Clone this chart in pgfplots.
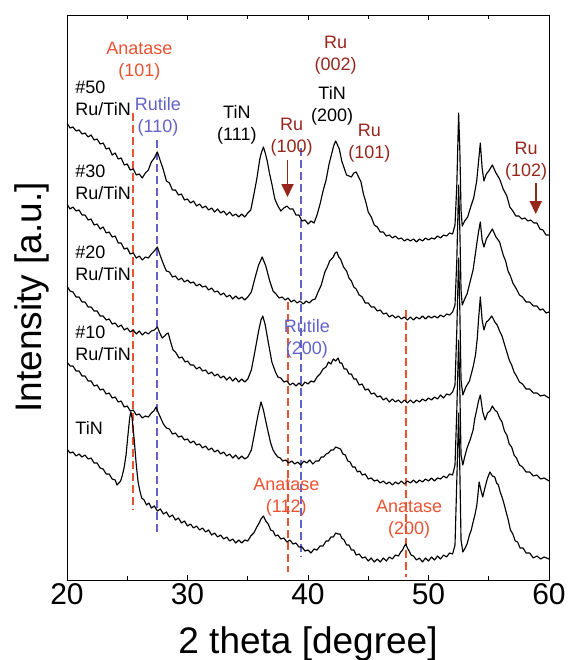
\documentclass[border=0pt]{standalone}
\usepackage{fontspec}
\setmainfont{Liberation Sans}
\usepackage{pgfplots}
\pgfplotsset{compat=1.18}
\usetikzlibrary{arrows.meta}
\definecolor{anared}{RGB}{234,82,50}
\definecolor{rutblue}{RGB}{98,98,200}
\definecolor{rured}{RGB}{150,38,28}
\begin{document}
\begin{tikzpicture}
\begin{axis}[
 scale only axis, width=482pt, height=565pt,
 xmin=20, xmax=60, ymin=15, ymax=580, y dir=reverse,
 xtick={20,30,40,50,60}, minor x tick num=1, ytick=\empty,
 tick align=inside, xtick pos=both, major tick length=5pt, minor tick length=4pt,
 tick style={black, line width=0.8pt},
 axis line style={line width=0.9pt},
 /pgf/number format/assume math mode=true,
 ticklabel style={font=\fontsize{30}{30}\selectfont},
 xlabel={2 theta [degree]}, ylabel={Intensity [a.u.]},
 label style={font=\fontsize{37}{37}\selectfont},
 xlabel style={at={(axis description cs:0.5,-0.1292)}, anchor=base},
 ylabel style={at={(axis description cs:-0.0519,0.5)}, anchor=base},
 every node/.style={inner sep=0pt},
]
% reference lines
\addplot[anared, line width=1.6pt, dash pattern=on 8pt off 4pt] coordinates {(25.48,113) (25.48,510)};
\addplot[rutblue, line width=1.6pt, dash pattern=on 8pt off 4pt] coordinates {(27.47,140) (27.47,533)};
\addplot[anared, line width=1.6pt, dash pattern=on 8pt off 4pt] coordinates {(38.34,302) (38.34,572)};
\addplot[rutblue, line width=1.6pt, dash pattern=on 8pt off 4pt] coordinates {(39.42,148) (39.42,557)};
\addplot[anared, line width=1.6pt, dash pattern=on 8pt off 4pt] coordinates {(48.13,310) (48.13,577)};

% #50
\addplot[black, line width=1.15pt, line join=round] coordinates {
(20,123) (20.25,128) (20.5,127) (20.75,131) (21,130) (21.25,134) (21.5,133) (21.75,137) (22,135) (22.25,140) (22.5,139) (22.75,144) (23,143) (23.25,149) (23.5,148) (23.75,155) (24,153) (24.25,159) (24.5,158) (24.75,165) (25,164) (25.25,170) (25.5,169) (25.75,175) (26,174) (26.25,178) (26.5,173) (26.75,170) (27,162) (27.25,158) (27.5,152) (27.75,161) (28,170) (28.25,181) (28.5,183) (28.75,190) (29,190) (29.25,195) (29.5,194) (29.75,200) (30,199) (30.25,203) (30.5,201) (30.75,206) (31,204) (31.25,208) (31.5,206) (31.75,210) (32,208) (32.25,212) (32.5,209) (32.75,213) (33,211) (33.25,215) (33.5,212) (33.75,216) (34,214) (34.25,217) (34.5,214) (34.75,217) (35,213) (35.25,210) (35.5,195) (35.75,179) (36,159) (36.15,152) (36.3,147) (36.45,153) (36.6,160) (36.8,173) (37,184) (37.25,199) (37.5,206) (37.75,211) (38,208) (38.25,206) (38.5,209) (38.75,209) (39,215) (39.25,215) (39.5,221) (39.75,220) (40,224) (40.25,221) (40.5,223) (40.75,215) (41,204) (41.25,191) (41.5,180) (41.75,164) (42,152) (42.15,145) (42.3,141) (42.45,145) (42.6,149) (42.8,161) (43,168) (43.2,175) (43.4,176) (43.6,177) (43.8,173) (44,172) (44.2,177) (44.4,182) (44.6,194) (44.8,202) (45,212) (45.25,217) (45.5,225) (45.75,227) (46,232) (46.25,232) (46.5,236) (46.75,235) (47,238) (47.25,236) (47.5,239) (47.75,238) (48,241) (48.25,239) (48.5,241) (48.75,239) (49,242) (49.25,239) (49.5,241) (49.75,238) (50,240) (50.25,238) (50.5,239) (50.75,236) (51,238) (51.25,235) (51.5,236) (51.75,233) (52,234) (52.2,225) (52.35,185) (52.5,113) (52.6,150) (52.7,210) (52.8,226) (53,221) (53.25,217) (53.5,207) (53.75,198) (54,181) (54.15,162) (54.3,143) (54.45,168) (54.6,181) (54.8,174) (55,171) (55.3,165) (55.6,173) (55.9,179) (56.2,189) (56.5,196) (56.75,207) (57,211) (57.25,216) (57.5,216) (57.75,219) (58,218) (58.25,221) (58.5,220) (58.75,223) (59,223) (59.25,229) (59.5,230) (59.75,235) (60,235)
};
% #30
\addplot[black, line width=1.15pt, line join=round] coordinates {
(20,204) (20.25,209) (20.5,207) (20.75,211) (21,210) (21.25,215) (21.5,215) (21.75,220) (22,219) (22.25,225) (22.5,224) (22.75,229) (23,227) (23.25,233) (23.5,232) (23.75,237) (24,236) (24.25,243) (24.5,243) (24.75,249) (25,248) (25.25,254) (25.5,253) (25.75,258) (26,256) (26.25,260) (26.5,257) (26.75,258) (27,254) (27.25,251) (27.5,247) (27.75,256) (28,264) (28.25,271) (28.5,272) (28.75,277) (29,276) (29.25,280) (29.5,278) (29.75,282) (30,280) (30.25,283) (30.5,282) (30.75,286) (31,284) (31.25,287) (31.5,286) (31.75,290) (32,288) (32.25,292) (32.5,291) (32.75,295) (33,293) (33.25,297) (33.5,295) (33.75,299) (34,296) (34.25,299) (34.5,297) (34.75,300) (35,297) (35.3,292) (35.6,278) (35.9,265) (36.2,257) (36.5,266) (36.8,280) (37.1,291) (37.35,294) (37.6,298) (37.85,297) (38.1,300) (38.35,298) (38.6,302) (38.85,300) (39.1,303) (39.35,301) (39.6,304) (39.85,301) (40.1,303) (40.35,300) (40.6,299) (40.8,293) (41.1,285) (41.4,272) (41.6,267) (41.8,261) (42.1,257) (42.25,253) (42.4,252) (42.55,257) (42.7,259) (42.95,267) (43.2,271) (43.4,278) (43.6,281) (43.8,287) (44,289) (44.25,295) (44.5,297) (44.75,303) (45,303) (45.25,307) (45.5,307) (45.75,311) (46,310) (46.25,314) (46.5,313) (46.75,317) (47,315) (47.25,318) (47.5,316) (47.75,319) (48,317) (48.25,320) (48.5,317) (48.75,320) (49,317) (49.25,319) (49.5,316) (49.75,319) (50,316) (50.25,318) (50.5,316) (50.75,318) (51,315) (51.25,317) (51.5,314) (51.75,315) (52,312) (52.2,305) (52.35,260) (52.5,185) (52.6,230) (52.7,290) (52.8,305) (53,299) (53.2,294) (53.45,282) (53.7,270) (53.9,253) (54.05,240) (54.15,232) (54.3,222) (54.45,240) (54.6,247) (54.8,239) (55,235) (55.3,229) (55.6,237) (55.9,242) (56.2,255) (56.4,261) (56.6,271) (56.8,276) (57,283) (57.3,289) (57.55,295) (57.8,297) (58.1,302) (58.4,302) (58.7,306) (59,306) (59.25,310) (59.5,309) (59.75,313) (60,312)
};
% #20
\addplot[black, line width=1.15pt, line join=round] coordinates {
(20,286) (20.25,291) (20.5,292) (20.75,297) (21,297) (21.25,302) (21.5,302) (21.75,307) (22,307) (22.25,311) (22.5,311) (22.75,316) (23,316) (23.25,320) (23.5,319) (23.75,324) (24,323) (24.25,327) (24.5,325) (24.75,330) (25,328) (25.25,332) (25.5,330) (25.75,334) (26,331) (26.25,335) (26.5,332) (26.75,334) (27,331) (27.25,330) (27.5,327) (27.7,333) (27.9,338) (28.1,336) (28.25,334) (28.4,333) (28.6,342) (28.8,350) (29,352) (29.3,358) (29.55,357) (29.8,362) (30,361) (30.25,365) (30.5,365) (30.75,369) (31,367) (31.25,371) (31.5,370) (31.75,374) (32,372) (32.25,376) (32.5,374) (32.75,378) (33,376) (33.25,380) (33.5,377) (33.75,381) (34,378) (34.25,382) (34.5,379) (34.75,382) (35,379) (35.3,370) (35.6,351) (35.9,331) (36.1,320) (36.25,316) (36.45,325) (36.7,342) (37,362) (37.3,372) (37.5,377) (37.75,378) (38,382) (38.25,381) (38.5,385) (38.75,383) (39,386) (39.25,383) (39.5,386) (39.75,382) (40,384) (40.25,381) (40.5,382) (40.75,377) (41,374) (41.25,369) (41.5,367) (41.7,362) (41.9,364) (42.1,359) (42.3,361) (42.5,358) (42.65,363) (42.8,363) (43,369) (43.2,369) (43.4,374) (43.6,374) (43.8,379) (44,379) (44.25,385) (44.5,384) (44.75,390) (45,389) (45.25,394) (45.5,393) (45.75,397) (46,396) (46.25,400) (46.5,398) (46.75,402) (47,399) (47.25,402) (47.5,400) (47.75,403) (48,400) (48.25,403) (48.5,400) (48.75,403) (49,400) (49.25,402) (49.5,399) (49.75,401) (50,398) (50.25,400) (50.5,397) (50.75,399) (51,395) (51.25,398) (51.5,394) (51.75,395) (52,392) (52.2,385) (52.35,330) (52.5,258) (52.6,310) (52.7,380) (52.85,395) (53.1,387) (53.4,381) (53.7,367) (53.9,355) (54.05,338) (54.15,320) (54.3,297) (54.45,320) (54.6,330) (54.8,322) (55,320) (55.25,316) (55.5,322) (55.7,325) (55.9,331) (56.1,336) (56.3,344) (56.5,352) (56.7,360) (56.9,365) (57.1,372) (57.3,376) (57.55,382) (57.8,384) (58.1,389) (58.4,389) (58.7,393) (59,393) (59.3,396) (59.6,395) (60,398)
};
% #10
\addplot[black, line width=1.15pt, line join=round] coordinates {
(20,362) (20.25,366) (20.5,366) (20.75,371) (21,371) (21.25,376) (21.5,376) (21.75,381) (22,381) (22.25,386) (22.5,385) (22.75,390) (23,389) (23.25,394) (23.5,393) (23.75,398) (24,397) (24.25,402) (24.5,401) (24.75,407) (25,406) (25.25,411) (25.5,410) (25.75,415) (26,414) (26.25,418) (26.5,416) (26.75,417) (27,413) (27.2,411) (27.4,407) (27.55,412) (27.7,416) (27.85,420) (28,424) (28.25,428) (28.5,429) (28.75,434) (29,433) (29.25,437) (29.5,436) (29.75,440) (30,439) (30.25,443) (30.5,441) (30.75,445) (31,444) (31.25,448) (31.5,446) (31.75,450) (32,448) (32.25,452) (32.5,450) (32.75,454) (33,452) (33.25,456) (33.5,454) (33.75,458) (34,455) (34.25,459) (34.5,456) (34.75,459) (35,457) (35.3,450) (35.6,431) (35.85,415) (36.1,402) (36.3,410) (36.6,427) (36.9,443) (37.1,450) (37.3,454) (37.5,457) (37.7,458) (37.9,461) (38.15,460) (38.4,463) (38.65,461) (38.9,464) (39.15,462) (39.4,465) (39.65,461) (39.9,463) (40.15,460) (40.4,464) (40.65,461) (40.9,461) (41.1,457) (41.3,457) (41.5,454) (41.7,453) (41.9,450) (42.1,450) (42.3,447) (42.5,448) (42.7,449) (42.9,454) (43.1,455) (43.3,461) (43.5,462) (43.7,467) (43.9,467) (44.1,472) (44.3,471) (44.5,475) (44.75,474) (45,479) (45.25,478) (45.5,481) (45.75,480) (46,483) (46.25,481) (46.5,484) (46.75,482) (47,485) (47.25,482) (47.5,484) (47.75,481) (48,484) (48.25,481) (48.5,483) (48.75,480) (49,483) (49.25,480) (49.5,482) (49.75,479) (50,481) (50.25,478) (50.5,481) (50.75,478) (51,479) (51.25,476) (51.5,478) (51.75,474) (52,475) (52.2,465) (52.35,410) (52.5,340) (52.6,390) (52.7,455) (52.85,465) (53,457) (53.2,448) (53.45,440) (53.7,430) (53.85,418) (54,410) (54.15,401) (54.3,395) (54.5,412) (54.7,420) (54.9,413) (55.1,411) (55.3,406) (55.5,410) (55.7,412) (55.9,418) (56.1,422) (56.3,431) (56.5,435) (56.7,444) (56.9,447) (57.1,455) (57.3,458) (57.55,465) (57.8,467) (58.1,472) (58.4,472) (58.7,476) (59,475) (59.3,479) (59.6,478) (60,481)
};
% TiN
\addplot[black, line width=1.15pt, line join=round] coordinates {
(20,449) (20.25,453) (20.5,452) (20.75,456) (21,454) (21.25,457) (21.5,455) (21.75,459) (22,458) (22.25,463) (22.5,463) (22.75,468) (23,469) (23.25,474) (23.5,474) (23.75,479) (24,480) (24.15,485) (24.3,483) (24.45,481) (24.6,475) (24.75,467) (24.9,455) (25.05,436) (25.2,418) (25.3,412) (25.4,418) (25.5,430) (25.6,443) (25.75,465) (25.9,482) (26.05,491) (26.2,498) (26.4,500) (26.6,505) (26.8,503) (27,508) (27.25,506) (27.5,511) (27.75,509) (28,514) (28.25,512) (28.5,517) (28.75,515) (29,520) (29.25,518) (29.5,523) (29.75,521) (30,526) (30.25,524) (30.5,528) (30.75,526) (31,530) (31.25,528) (31.5,532) (31.75,530) (32,535) (32.25,533) (32.5,537) (32.75,535) (33,539) (33.25,537) (33.5,541) (33.75,539) (34,543) (34.25,540) (34.5,543) (34.75,540) (35,541) (35.25,536) (35.5,533) (35.75,527) (35.95,523) (36.1,519) (36.3,516) (36.5,521) (36.7,524) (36.9,530) (37.1,531) (37.3,536) (37.5,535) (37.75,539) (38,538) (38.25,542) (38.5,540) (38.75,544) (39,543) (39.25,547) (39.5,547) (39.75,551) (40,550) (40.25,553) (40.5,549) (40.75,550) (41,546) (41.25,546) (41.5,541) (41.7,541) (41.9,537) (42.1,537) (42.3,533) (42.5,534) (42.65,534) (42.8,538) (43,540) (43.2,545) (43.4,545) (43.6,550) (43.8,550) (44,555) (44.25,554) (44.5,558) (44.75,557) (45,561) (45.25,558) (45.5,562) (45.75,559) (46,562) (46.25,558) (46.5,561) (46.75,557) (47,559) (47.25,555) (47.5,556) (47.7,552) (47.85,550) (48,546) (48.12,544) (48.25,548) (48.4,551) (48.55,555) (48.75,556) (49,560) (49.25,558) (49.5,562) (49.75,558) (50,561) (50.25,557) (50.5,560) (50.75,556) (51,559) (51.25,555) (51.5,557) (51.75,553) (52,554) (52.2,545) (52.35,480) (52.5,413) (52.6,470) (52.7,540) (52.85,552) (53,549) (53.2,544) (53.4,535) (53.55,530) (53.7,522) (53.85,515) (54,506) (54.1,495) (54.2,482) (54.35,490) (54.5,497) (54.7,487) (54.9,478) (55.1,472) (55.3,476) (55.5,477) (55.65,483) (55.8,485) (55.95,492) (56.1,497) (56.25,503) (56.4,510) (56.6,519) (56.8,530) (57,534) (57.2,541) (57.4,542) (57.6,548) (57.85,548) (58.1,553) (58.4,553) (58.7,558) (59,556) (59.3,559) (59.6,557) (60,559)
};

% arrows
\draw[rured, line width=1.8pt, -{Triangle[length=13pt,width=12pt]}] (axis cs:38.3,160) -- (axis cs:38.3,197);
\draw[rured, line width=1.8pt, -{Triangle[length=13pt,width=12pt]}] (axis cs:58.9,183) -- (axis cs:58.9,214);

% labels
\begin{scope}[every node/.append style={font=\fontsize{18}{22}\selectfont, align=center}]
\node[text=anared] at (axis cs:26.0,61) {Anatase\\(101)};
\node[text=rutblue] at (axis cs:27.55,117) {Rutile\\(110)};
\node[text=black] at (axis cs:34.1,125) {TiN\\(111)};
\node[text=rured] at (axis cs:38.65,137) {Ru\\(100)};
\node[text=rured] at (axis cs:42.3,55.5) {Ru\\(002)};
\node[text=black] at (axis cs:42.0,105.5) {TiN\\(200)};
\node[text=rured] at (axis cs:45.1,143) {Ru\\(101)};
\node[text=rured] at (axis cs:58.1,161) {Ru\\(102)};
\node[text=rutblue] at (axis cs:39.9,338.5) {Rutile\\(200)};
\node[text=anared] at (axis cs:38.2,497.5) {Anatase\\(112)};
\node[text=anared] at (axis cs:48.4,519.5) {Anatase\\(200)};
\node[anchor=west, align=left] at (axis cs:20.41,98.5) {\#50\\Ru/TiN};
\node[anchor=west, align=left] at (axis cs:20.41,182.5) {\#30\\Ru/TiN};
\node[anchor=west, align=left] at (axis cs:20.41,263.5) {\#20\\Ru/TiN};
\node[anchor=west, align=left] at (axis cs:20.41,343) {\#10\\Ru/TiN};
\node[anchor=west, align=left] at (axis cs:20.41,428) {TiN};
\end{scope}
\end{axis}
\pgfresetboundingbox
\path[use as bounding box] ([xshift=-67pt,yshift=-80pt]current axis.south west) rectangle ([xshift=18pt,yshift=15pt]current axis.north east);
\end{tikzpicture}
\end{document}
